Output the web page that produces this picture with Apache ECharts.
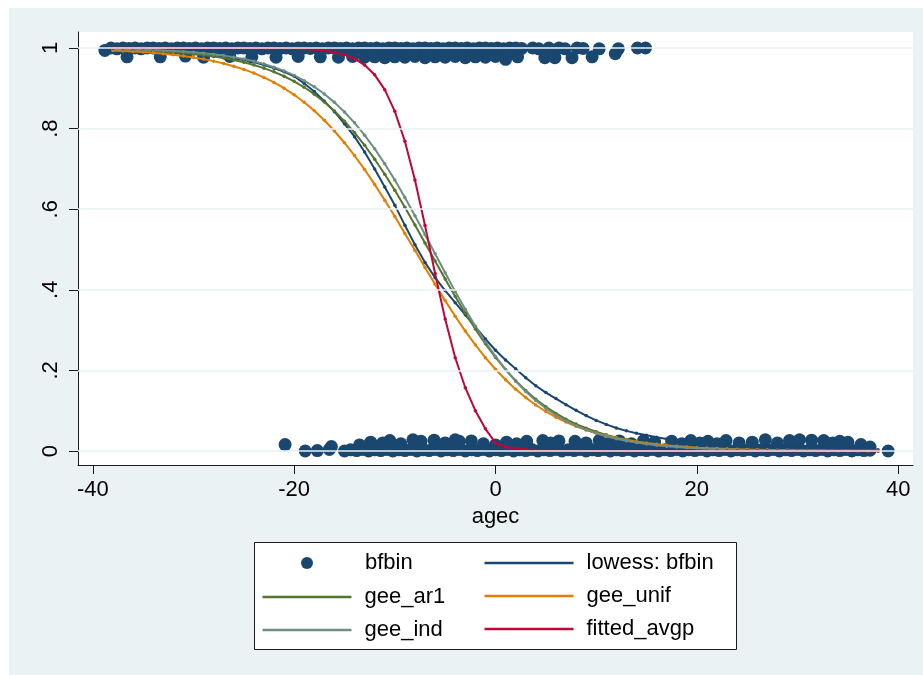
<!DOCTYPE html>
<html>
<head>
<meta charset="utf-8">
<script src="https://cdn.jsdelivr.net/npm/echarts@6/dist/echarts.min.js"></script>
<style>html,body{margin:0;padding:0;background:#fff}#chart{width:923px;height:675px}</style>
</head>
<body>
<div id="chart"></div>
<script>
// ---- tick labels ----
const xTicks = [-40, -20, 0, 20, 40];
const yTicks = [0, 0.2, 0.4, 0.6, 0.8, 1];

// ---- fitted curves, evaluated at agec grid ----
const agecGrid = [
  -38,-37,-36,-35,-34,-33,-32,-31,-30,-29,
  -28,-27,-26,-25,-24,-23,-22,-21,-20,-19,
  -18,-17,-16,-15,-14,-13,-12,-11,-10,-9,
  -8,-7,-6,-5,-4,-3,-2,-1,0,1,
  2,3,4,5,6,7,8,9,10,11,
  12,13,14,15,16,17,18,19,20,21,
  22,23,24,25,26,27,28,29,30,31,
  32,33,34,35,36,37,38
];
const lowessBfbin = [
  0.996,0.995,0.994,0.993,0.992,0.991,0.989,0.987,0.985,0.983,
  0.980,0.977,0.974,0.970,0.965,0.958,0.950,0.941,0.930,0.912,
  0.892,0.868,0.842,0.812,0.780,0.742,0.700,0.655,0.610,0.560,
  0.512,0.468,0.430,0.398,0.368,0.338,0.308,0.278,0.250,0.226,
  0.204,0.182,0.162,0.145,0.130,0.115,0.101,0.088,0.076,0.066,
  0.057,0.050,0.044,0.039,0.034,0.030,0.026,0.023,0.020,0.018,
  0.016,0.014,0.012,0.011,0.010,0.009,0.008,0.007,0.0065,0.006,
  0.0055,0.005,0.0045,0.004,0.0035,0.003,0.003
];
const geeAr1 = [
  0.9965,0.9958,0.9950,0.9940,0.9928,0.9914,0.9897,0.9877,0.9853,0.9825,
  0.9791,0.9750,0.9703,0.9646,0.9579,0.9500,0.9408,0.9299,0.9172,0.9025,
  0.8855,0.8659,0.8436,0.8183,0.7900,0.7586,0.7241,0.6868,0.6468,0.6047,
  0.5609,0.5162,0.4713,0.4268,0.3834,0.3419,0.3026,0.2660,0.2323,0.2018,
  0.1744,0.1500,0.1284,0.1096,0.0932,0.0791,0.0669,0.0565,0.0477,0.0401,
  0.0337,0.0283,0.0238,0.0199,0.0167,0.0140,0.0117,0.0098,0.0082,0.0069,
  0.0057,0.0048,0.0040,0.0034,0.0028,0.0023,0.0020,0.0016,0.0014,0.0011,
  0.0010,0.0008,0.0007,0.0006,0.0005,0.0004,0.0003
];
const geeUnif = [
  0.9939,0.9927,0.9914,0.9899,0.9880,0.9858,0.9832,0.9802,0.9766,0.9724,
  0.9674,0.9616,0.9548,0.9469,0.9377,0.9270,0.9146,0.9002,0.8839,0.8653,
  0.8442,0.8206,0.7941,0.7649,0.7330,0.6985,0.6615,0.6225,0.5818,0.5400,
  0.4979,0.4555,0.4138,0.3732,0.3344,0.2976,0.2634,0.2317,0.2029,0.1767,
  0.1534,0.1326,0.1142,0.0981,0.0840,0.0718,0.0613,0.0522,0.0444,0.0377,
  0.0320,0.0272,0.0230,0.0195,0.0165,0.0139,0.0118,0.0100,0.0084,0.0071,
  0.0060,0.0051,0.0043,0.0036,0.0031,0.0026,0.0022,0.0018,0.0015,0.0013,
  0.0011,0.0009,0.0008,0.0007,0.0006,0.0005,0.0004
];
const geeInd = [
  0.9976,0.9971,0.9965,0.9958,0.9949,0.9939,0.9926,0.9911,0.9892,0.9870,
  0.9843,0.9811,0.9772,0.9726,0.9670,0.9604,0.9525,0.9431,0.9320,0.9190,
  0.9037,0.8858,0.8651,0.8413,0.8143,0.7838,0.7499,0.7126,0.6722,0.6290,
  0.5837,0.5370,0.4895,0.4423,0.3960,0.3516,0.3096,0.2705,0.2347,0.2023,
  0.1734,0.1478,0.1254,0.1060,0.0893,0.0750,0.0628,0.0525,0.0439,0.0366,
  0.0304,0.0253,0.0210,0.0174,0.0145,0.0120,0.0099,0.0082,0.0068,0.0056,
  0.0047,0.0039,0.0032,0.0026,0.0022,0.0018,0.0015,0.0012,0.0010,0.0008,
  0.0007,0.0006,0.0005,0.0004,0.0003,0.0003,0.0002
];
const fittedAvgp = [
  1.0000,1.0000,1.0000,1.0000,1.0000,1.0000,1.0000,1.0000,1.0000,1.0000,
  1.0000,1.0000,1.0000,0.9999,0.9998,0.9996,0.9994,0.9991,0.9985,0.9975,
  0.9960,0.9936,0.9896,0.9834,0.9734,0.9577,0.9334,0.8966,0.8429,0.7685,
  0.6726,0.5597,0.4403,0.3274,0.2315,0.1571,0.1000,0.0550,0.0200,0.0100,
  0.0065,0.0040,0.0025,0.0015,0.0010,0.0007,0.0005,0.0004,0.0003,0.0002,
  0.0002,0.0002,0.0002,0.0002,0.0001,0.0001,0.0001,0.0001,0.0001,0.0001,
  0.0001,0.0001,0.0001,0.0001,0.0001,0.0001,0.0001,0.0001,0.0001,0.0001,
  0.0001,0.0001,0.0001,0.0001,0.0001,0.0001,0.0001
];

// ---- bfbin observations (jittered), [agec, bfbin] ----
const bfbinOnes = [
  [-38.8,0.994],[-38.2,1.0],[-37.6,0.998],[-37.0,1.0],[-36.4,0.999],[-35.8,1.0],[-35.2,0.998],[-34.6,1.0],
  [-34.0,1.0],[-33.4,0.999],[-32.8,1.0],[-32.2,0.998],[-31.6,1.0],[-31.0,1.0],[-30.4,0.999],[-29.8,1.0],
  [-29.2,0.998],[-28.6,1.0],[-28.0,1.0],[-27.4,0.999],[-26.8,1.0],[-26.2,0.998],[-25.6,1.0],[-25.0,1.0],
  [-24.4,0.999],[-23.8,1.0],[-23.2,0.998],[-22.6,1.0],[-22.0,1.0],[-21.4,0.999],[-20.8,1.0],[-20.2,0.998],
  [-19.6,1.0],[-19.0,1.0],[-18.4,0.999],[-17.8,1.0],[-17.2,0.998],[-16.6,1.0],[-16.0,1.0],[-15.4,0.999],
  [-14.8,1.0],[-14.2,0.998],[-13.6,1.0],[-13.0,1.0],[-12.4,0.999],[-11.8,1.0],[-11.2,0.998],[-10.6,1.0],
  [-10.0,1.0],[-9.4,0.999],[-8.8,1.0],[-8.2,0.998],[-7.6,1.0],[-7.0,1.0],[-6.4,0.999],[-5.8,1.0],
  [-5.2,0.998],[-4.6,1.0],[-4.0,1.0],[-3.4,0.999],[-2.8,1.0],[-2.2,0.998],[-1.6,1.0],[-1.0,1.0],
  [-0.4,0.999],[0.2,1.0],[0.8,0.998],[1.4,1.0],[2.0,1.0],[2.6,0.999],
  [-12.9,0.99],[-11.7,0.988],[-10.5,0.99],[-9.3,0.988],[-8.1,0.99],[-6.9,0.988],[-5.7,0.99],
  [-4.5,0.988],[-3.3,0.99],[-2.1,0.988],[-0.9,0.99],[0.3,0.988],[1.5,0.99],
  [-36.6,0.978],[-33.3,0.978],[-30.8,0.98],[-29.0,0.977],[-26.4,0.979],[-24.2,0.978],[-21.8,0.977],
  [-19.6,0.979],[-17.4,0.978],[-15.6,0.977],[-14.2,0.979],[-13.0,0.977],[-12.0,0.978],[-11.0,0.976],
  [-10.0,0.978],[-9.0,0.977],[-8.0,0.979],[-7.0,0.976],[-6.0,0.978],[-5.0,0.977],[-4.0,0.979],
  [-3.0,0.976],[-2.0,0.978],[-1.0,0.977],[0.0,0.979],[1.0,0.972],[2.2,0.978],
  [3.7,1.0],[4.3,0.998],[4.9,0.976],[5.3,1.0],[5.9,0.976],[6.3,1.0],[6.9,0.998],[7.6,0.976],
  [8.1,1.0],[8.7,0.999],[9.6,0.978],[10.3,0.998],[11.9,0.986],[12.2,0.998],[14.1,1.0],[14.9,1.0]
];
const bfbinZeros = [
  [-20.9,0.016],[-18.9,0.0],[-17.7,0.001],[-16.5,0.004],[-16.3,0.011],
  [-15.0,0.0],[-14.4,0.003],[-13.8,0.001],[-13.2,0.004],[-12.6,0.0],[-12.0,0.003],[-11.4,0.001],[-10.8,0.004],
  [-10.2,0.0],[-9.6,0.003],[-9.0,0.001],[-8.4,0.004],[-7.8,0.0],[-7.2,0.003],[-6.6,0.001],[-6.0,0.004],
  [-5.4,0.0],[-4.8,0.003],[-4.2,0.001],[-3.6,0.004],[-3.0,0.0],[-2.4,0.003],[-1.8,0.001],[-1.2,0.004],
  [-0.6,0.0],[0.0,0.003],[0.6,0.001],[1.2,0.004],[1.8,0.0],[2.4,0.003],[3.0,0.001],[3.6,0.004],
  [4.2,0.0],[4.8,0.003],[5.4,0.001],[6.0,0.004],[6.6,0.0],[7.2,0.003],[7.8,0.001],[8.4,0.004],
  [9.0,0.0],[9.6,0.003],[10.2,0.001],[10.8,0.004],[11.4,0.0],[12.0,0.003],[12.6,0.001],[13.2,0.004],
  [13.8,0.0],[14.4,0.003],[15.0,0.001],[15.6,0.004],[16.2,0.0],[16.8,0.003],[17.4,0.001],[18.0,0.004],
  [18.6,0.0],[19.2,0.003],[19.8,0.001],[20.4,0.004],[21.0,0.0],[21.6,0.003],[22.2,0.001],[22.8,0.004],
  [23.4,0.0],[24.0,0.003],[24.6,0.001],[25.2,0.004],[25.8,0.0],[26.4,0.003],[27.0,0.001],[27.6,0.004],
  [28.2,0.0],[28.8,0.003],[29.4,0.001],[30.0,0.004],[30.6,0.0],[31.2,0.003],[31.8,0.001],[32.4,0.004],
  [33.0,0.0],[33.6,0.003],[34.2,0.001],[34.8,0.004],[35.4,0.0],[36.0,0.003],[36.6,0.001],[37.2,0.002],
  [39.0,0.0],
  [-13.5,0.015],[-12.4,0.022],[-11.2,0.02],[-10.5,0.026],[-9.4,0.018],[-8.2,0.028],[-7.4,0.024],
  [-6.1,0.027],[-5.0,0.02],[-4.0,0.028],[-3.6,0.024],[-2.4,0.025],[-1.2,0.018],[0.0,0.015],
  [1.1,0.022],[2.1,0.018],[3.1,0.024],[4.7,0.026],[5.5,0.02],[6.3,0.025],[7.9,0.024],[9.0,0.02],
  [10.3,0.026],[11.3,0.02],[12.3,0.025],[13.5,0.018],[14.7,0.026],[15.8,0.022],[17.5,0.024],
  [18.5,0.018],[19.4,0.026],[20.3,0.02],[21.1,0.024],[22.0,0.018],[22.9,0.026],[24.2,0.02],
  [25.5,0.022],[26.8,0.028],[28.0,0.02],[29.2,0.026],[30.2,0.028],[31.4,0.027],[32.6,0.026],
  [33.5,0.02],[34.2,0.024],[35.0,0.022],[36.3,0.016],[37.2,0.01]
];

const FONT = '"Liberation Sans", Arial, Helvetica, sans-serif';
const pairs = (xs, ys) => xs.map((x, i) => [x, ys[i]]);

const lineSeries = (name, values, color) => ({
  name: name,
  type: 'line',
  data: pairs(agecGrid, values),
  showSymbol: true,
  symbol: 'circle',
  symbolSize: 3.5,
  lineStyle: { color: color, width: 2 },
  itemStyle: { color: color },
  z: 3,
  animation: false,
  silent: true
});

const legendText = (padLeft) => ({ fontSize: 22, color: '#000', fontFamily: FONT, padding: [0, 0, 0, padLeft] });

const chart = echarts.init(document.getElementById('chart'), null, { renderer: 'canvas' });
chart.setOption({
  animation: false,
  backgroundColor: '#EAF2F3',
  textStyle: { fontFamily: FONT },
  graphic: [
    { type: 'rect', shape: { x: 0, y: 0, width: 923, height: 8 }, style: { fill: '#ffffff' }, silent: true },
    { type: 'rect', shape: { x: 0, y: 0, width: 9, height: 675 }, style: { fill: '#ffffff' }, silent: true },
    { type: 'rect', z: 1, shape: { x: 254.5, y: 542.5, width: 482, height: 107 },
      style: { fill: '#ffffff', stroke: '#1a1a1a', lineWidth: 1 }, silent: true }
  ],
  grid: { left: 78, top: 32, right: 10, bottom: 210, show: true, backgroundColor: '#ffffff', borderWidth: 0 },
  xAxis: {
    type: 'value', min: -41.47, max: 41.47,
    name: 'agec', nameLocation: 'middle', nameGap: 40,
    nameTextStyle: { fontSize: 22, color: '#000', fontFamily: FONT },
    axisLine: { show: true, onZero: false, lineStyle: { color: '#1a1a1a', width: 1 } },
    axisTick: { show: true, customValues: xTicks, length: 9, lineStyle: { color: '#1a1a1a', width: 1 } },
    axisLabel: { customValues: xTicks, fontSize: 22, color: '#000', margin: 14, fontFamily: FONT },
    splitLine: { show: false }
  },
  yAxis: {
    type: 'value', min: -0.0347, max: 1.0397,
    axisLine: { show: true, onZero: false, lineStyle: { color: '#1a1a1a', width: 1 } },
    axisTick: { show: true, customValues: yTicks, length: 9, lineStyle: { color: '#1a1a1a', width: 1 } },
    axisLabel: {
      customValues: yTicks, fontSize: 22, color: '#000', rotate: 90, margin: 16, fontFamily: FONT,
      formatter: v => (v === 0 ? '0' : v === 1 ? '1' : String(v).replace(/^0/, ''))
    },
    splitLine: { show: false }
  },
  legend: [
    {
      data: [{ name: 'bfbin', icon: 'circle' }], orient: 'vertical', left: 301, top: 552, padding: 0,
      itemWidth: 12, itemHeight: 12, selectedMode: false,
      textStyle: legendText(47)
    },
    {
      data: [{ name: 'gee_ar1', icon: 'rect' }, { name: 'gee_ind', icon: 'rect' }], orient: 'vertical',
      left: 262.5, top: 586, padding: 0, itemGap: 11, itemWidth: 89, itemHeight: 2.5, selectedMode: false,
      textStyle: legendText(8)
    },
    {
      data: [{ name: 'lowess: bfbin', icon: 'rect' }, { name: 'gee_unif', icon: 'rect' }, { name: 'fitted_avgp', icon: 'rect' }],
      orient: 'vertical', left: 484.5, top: 552, padding: 0, itemGap: 11, itemWidth: 89, itemHeight: 2.5, selectedMode: false,
      textStyle: legendText(8)
    }
  ],
  series: [
    {
      name: 'grid', type: 'scatter', data: [], z: 1, silent: true,
      markLine: {
        silent: true, symbol: ['none', 'none'], label: { show: false },
        lineStyle: { color: '#EAF2F3', width: 1.5, type: 'solid' },
        emphasis: { disabled: true },
        data: yTicks.map(v => ({ yAxis: v }))
      }
    },
    {
      name: 'bfbin', type: 'scatter', data: bfbinOnes.concat(bfbinZeros),
      symbol: 'circle', symbolSize: 13, itemStyle: { color: '#1A476F', opacity: 1 }, z: 2, silent: true
    },
    lineSeries('lowess: bfbin', lowessBfbin, '#1A476F'),
    lineSeries('gee_ar1', geeAr1, '#55752F'),
    lineSeries('gee_unif', geeUnif, '#E37E00'),
    lineSeries('gee_ind', geeInd, '#6E8E84'),
    lineSeries('fitted_avgp', fittedAvgp, '#C10534')
  ]
});
</script>
</body>
</html>
